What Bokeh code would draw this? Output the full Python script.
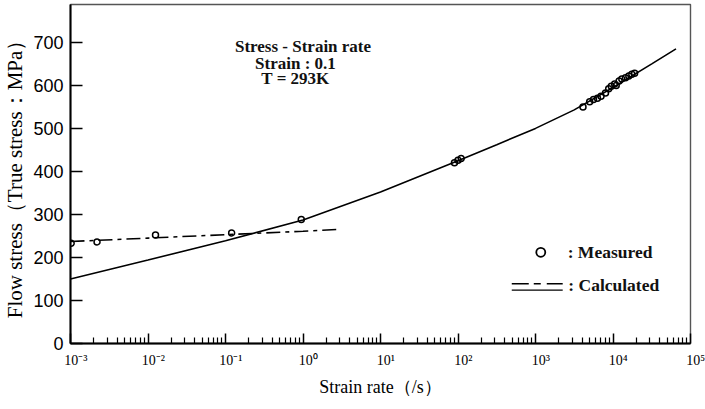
from bokeh.plotting import figure
from bokeh.models import FixedTicker, CustomJSTickFormatter, Label
from bokeh.embed import file_html
from bokeh.resources import INLINE

# calculated flow stress (solid curve)
calc_rate = [1e-3, 1e-2, 1e-1, 1e0, 1e1, 1e2, 316, 1e3, 3162, 1e4, 31623, 6.5e4]
calc_stress = [150, 194, 239, 287, 352, 425, 462, 500, 543, 595, 650, 685]

# calculated low-rate branch (dash-dot curve)
branch_rate = [1e-3, 1e-2, 1e-1, 1e0, 2.7]
branch_stress = [237, 245, 253, 261, 265]

# measured points
meas_rate = [1.02e-3, 2.2e-3, 1.25e-2, 0.12, 0.95,
             90, 100, 110,
             4100, 5000, 5600, 6300, 7000, 8000, 8800, 9500, 10500,
             11000, 12000, 13000, 14500, 16000, 17500, 19000]
meas_stress = [233, 236, 252, 257, 288,
               420, 426, 430,
               550, 562, 567, 570, 575, 582, 592, 598, 603,
               600, 610, 615, 618, 622, 626, 628]

x_ticks = [1e-3, 1e-2, 1e-1, 1e0, 1e1, 1e2, 1e3, 1e4, 1e5]
x_tick_labels = ["10⁻³", "10⁻²", "10⁻¹", "10⁰", "10¹", "10²", "10³", "10⁴", "10⁵"]
y_ticks = [0, 100, 200, 300, 400, 500, 600, 700]

SERIF = "Liberation Serif"

p = figure(width=705, height=409, x_axis_type="log",
           x_range=(1e-3, 1e5), y_range=(0, 788),
           output_backend="svg", toolbar_location=None,
           min_border_left=69, min_border_right=15,
           min_border_top=4, min_border_bottom=66)
p.background_fill_color = "white"
p.border_fill_color = "white"
p.outline_line_color = "#555555"
p.outline_line_width = 1.4
p.xgrid.visible = False
p.ygrid.visible = False

minor = [m * 10.0 ** k for k in range(-3, 5) for m in range(2, 10)]
p.xaxis.ticker = FixedTicker(ticks=x_ticks, minor_ticks=minor)
# decade labels sit a little to the right of their ticks
p.xaxis.formatter = CustomJSTickFormatter(
    args=dict(tick_vals=x_ticks, tick_text=x_tick_labels),
    code="""
    const i = tick_vals.findIndex(t => Math.abs(Math.log10(t) - Math.log10(tick)) < 1e-6);
    return i >= 0 ? '\\u00a0\\u00a0\\u00a0' + tick_text[i] : '';
    """)
p.xaxis.major_tick_in = 10
p.xaxis.major_tick_out = 0
p.xaxis.minor_tick_in = 6
p.xaxis.minor_tick_out = 0
p.xaxis.major_label_text_font = SERIF
p.xaxis.major_label_text_font_size = "14px"
p.xaxis.major_label_standoff = 9
p.xaxis.axis_label = "Strain rate（/s）"
p.xaxis.axis_label_text_font = SERIF
p.xaxis.axis_label_text_font_size = "18px"
p.xaxis.axis_label_text_font_style = "normal"
p.xaxis.axis_label_standoff = 6

p.yaxis.ticker = FixedTicker(ticks=y_ticks, minor_ticks=[])
p.yaxis.major_tick_in = 12
p.yaxis.major_tick_out = 0
p.yaxis.minor_tick_in = 0
p.yaxis.minor_tick_out = 0
p.yaxis.major_label_text_font = "Liberation Sans"
p.yaxis.major_label_text_font_size = "18px"
p.yaxis.major_label_standoff = 7
p.yaxis.axis_label = "Flow stress（True stress：MPa）"
p.yaxis.axis_label_text_font = SERIF
p.yaxis.axis_label_text_font_size = "21px"
p.yaxis.axis_label_text_font_style = "normal"
p.yaxis.axis_label_standoff = 3

for ax in (p.xaxis, p.yaxis):
    ax.axis_line_color = "black"
    ax.axis_line_width = 2
    ax.major_tick_line_color = "black"
    ax.major_tick_line_width = 1.5
    ax.minor_tick_line_color = "black"
    ax.minor_tick_line_width = 1.2
    ax.major_label_text_color = "black"
    ax.axis_label_text_color = "black"

# curves
p.line(calc_rate, calc_stress, line_color="black", line_width=1.6)
p.line(branch_rate, branch_stress, line_color="black", line_width=1.6,
       line_dash="14 5 4 5")

# measured data
p.scatter(meas_rate, meas_stress, marker="circle", size=6,
          fill_color=None, line_color="black", line_width=1.5)

# condition text
for txt, xv, yv in (("Stress - Strain rate", 1.0, 690),
                    ("Strain : 0.1", 0.8, 652),
                    ("T = 293K", 0.8, 617)):
    p.add_layout(Label(x=xv, y=yv, text=txt, text_align="center",
                       text_baseline="middle", text_font=SERIF,
                       text_font_size="17px", text_font_style="bold",
                       text_color="#111111"))

# key
p.scatter([1170], [212], marker="circle", size=9, fill_color=None,
          line_color="black", line_width=1.8)
p.add_layout(Label(x=2600, y=212, text=": Measured", text_align="left",
                   text_baseline="middle", text_font=SERIF,
                   text_font_size="17.5px", text_font_style="bold",
                   text_color="#111111"))
p.line([494, 2244], [124, 124], line_color="black", line_width=1.4)
p.line([494, 2244], [139, 139], line_color="black", line_width=1.4,
       line_dash="17 5 7 6")
p.add_layout(Label(x=2650, y=136, text=": Calculated", text_align="left",
                   text_baseline="middle", text_font=SERIF,
                   text_font_size="17.5px", text_font_style="bold",
                   text_color="#111111"))

open("out.html", "w").write(file_html(p, INLINE))
